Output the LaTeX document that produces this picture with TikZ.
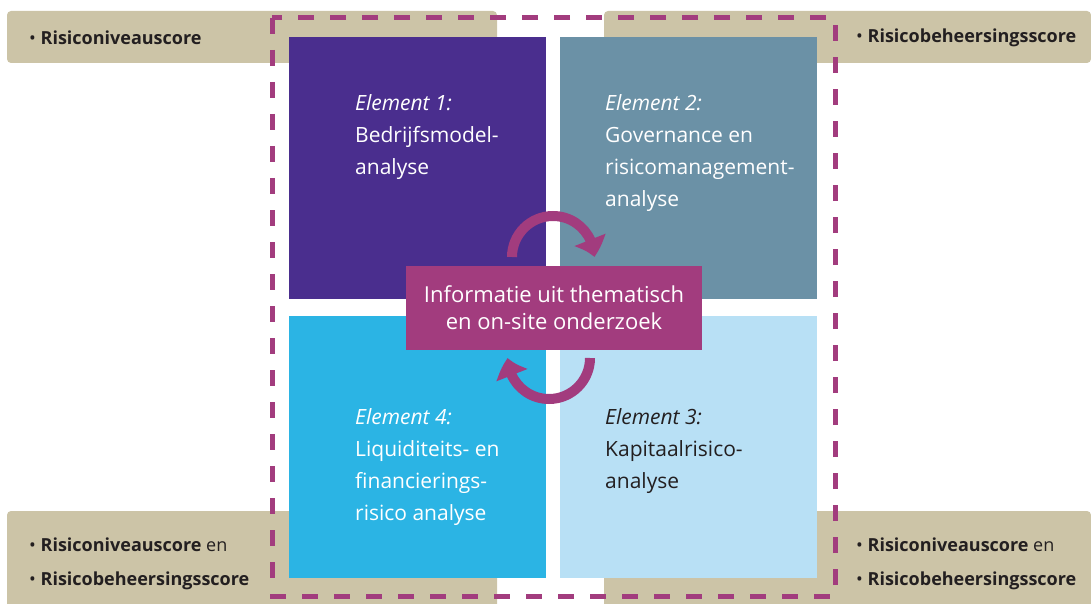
\documentclass[tikz,border=0pt]{standalone}
\usepackage{fontspec}
\setmainfont{Open Sans}
\usetikzlibrary{arrows.meta,bending}

\definecolor{sand}{HTML}{CCC4A7}
\definecolor{elpurple}{HTML}{4A2E8E}
\definecolor{elsteel}{HTML}{6B91A6}
\definecolor{elcyan}{HTML}{2BB4E4}
\definecolor{elpale}{HTML}{B8E0F5}
\definecolor{plum}{HTML}{A23C7E}
\definecolor{ink}{HTML}{231F20}

\tikzset{
  sandbox/.style={fill=sand},
  quad/.style={inner sep=0pt, minimum width=257pt, minimum height=262pt, anchor=north west},
  eltext/.style={anchor=north west, align=left, inner sep=0pt,
    font=\fontsize{21}{32}\selectfont},
  scoretext/.style={anchor=west, align=left, inner sep=0pt, text=ink,
    font=\fontsize{18}{34}\selectfont},
  frame/.style={draw=plum, line width=5pt, dash pattern=on 16pt off 16pt},
  cycle arrow/.style={draw=plum, line width=10pt,
    -{Triangle[width=32pt, length=18pt, bend]}},
}

\begin{document}
\begin{tikzpicture}[x=1pt, y=-1pt]
\useasboundingbox (0,0) rectangle (1091,604);

% sand bands behind the corners
\fill[sandbox, rounded corners=4pt] (7,11) rectangle (497,63);
\fill[sandbox, rounded corners=4pt] (604,11) rectangle (1091,63);
\fill[sandbox] (7,604) {[rounded corners=4pt] -- (7,511) -- (497,511)} -- (497,604) -- cycle;
\fill[sandbox] (604,604) {[rounded corners=4pt] -- (604,511) -- (1091,511)} -- (1091,604) -- cycle;

% score labels
\node[scoretext] (s1) at (29,38) {• \textbf{Risiconiveauscore}};
\node[scoretext] (s2) at (856,38) {• \textbf{Risicobeheersingsscore}};
\node[scoretext, anchor=north west] (s3) at (29,538) {• \textbf{Risiconiveauscore} en\\• \textbf{Risicobeheersingsscore}};
\node[scoretext, anchor=north west] (s4) at (856,538) {• \textbf{Risiconiveauscore} en\\• \textbf{Risicobeheersingsscore}};

% dashed frame
\draw[frame] (272,18) rectangle (835,596);

% four element squares
\node[quad, fill=elpurple] (e1) at (289,37) {};
\node[quad, fill=elsteel]  (e2) at (560,37) {};
\node[quad, fill=elcyan]   (e4) at (289,316) {};
\node[quad, fill=elpale]   (e3) at (560,316) {};

\node[eltext, text=white] (t1) at (355,94) {\textit{Element 1:}\\Bedrijfsmodel-\\analyse};
\node[eltext, text=white] (t2) at (605,94) {\textit{Element 2:}\\Governance en\\risicomanagement-\\analyse};
\node[eltext, text=white] (t4) at (355,408) {\textit{Element 4:}\\Liquiditeits- en\\financierings-\\risico analyse};
\node[eltext, text=ink]   (t3) at (605,408) {\textit{Element 3:}\\Kapitaalrisico-\\analyse};

% cycle arrows
\draw[cycle arrow] (512,257) arc[start angle=180, end angle=360, radius=41];
\draw[cycle arrow] (590,358) arc[start angle=0, end angle=180, radius=41];

% central information box
\node[fill=plum, text=white, minimum width=296pt, minimum height=84pt, inner sep=0pt,
  align=center, font=\fontsize{22}{27}\selectfont] (info) at (554,308)
  {Informatie uit thematisch\\en on-site onderzoek};
\end{tikzpicture}
\end{document}
